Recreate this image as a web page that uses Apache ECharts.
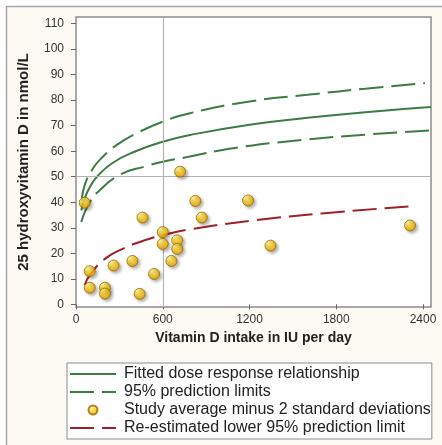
<!DOCTYPE html>
<html>
<head>
<meta charset="utf-8">
<script src="https://cdn.jsdelivr.net/npm/echarts@6/dist/echarts.min.js"></script>
<style>
  html, body { margin: 0; padding: 0; background: #fff; }
  #chart { width: 442px; height: 445px; }
</style>
</head>
<body>
<div id="chart"></div>
<script>
// study points: intake (IU/day) vs 25(OH)D mean minus 2 SD
const studyIntake = [60, 95, 95, 200, 200, 260, 390, 440, 460, 540, 600, 600, 660, 700, 700, 720, 825, 870, 1190, 1345, 2310];
const studyLevel  = [39.8, 13, 6.5, 6.5, 4.2, 15.2, 17, 4.1, 34, 11.9, 28.3, 23.7, 17, 25.1, 21.7, 52, 40.5, 34, 40.7, 23, 30.9];

// fitted dose response curve
const fitX = [37, 60, 100, 150, 250, 400, 600, 800, 1200, 1600, 2000, 2455];
const fitY = [36.8, 41.5, 46.4, 50.3, 55.3, 59.7, 63.7, 66.5, 70.4, 73.1, 75.3, 77.3];

// 95% prediction limits
const upperX = [40, 60, 118, 187, 280, 418, 600, 787, 1200, 1600, 2000, 2413];
const upperY = [40.5, 46.7, 53.3, 57.9, 62.4, 67, 71.6, 74.9, 79.5, 82.1, 84.5, 86.7];
const lowerX = [37, 60, 100, 141, 302, 487, 600, 787, 1087, 1600, 2000, 2455];
const lowerY = [32.3, 36, 40.5, 43.5, 50.7, 54.2, 55.9, 57.9, 61.2, 64.6, 66.5, 68.2];

// re-estimated lower limit
const reX = [60, 100, 200, 325, 460, 600, 800, 1250, 1700, 2310];
const reY = [7.5, 11.8, 17.8, 21.8, 24.8, 27.1, 29.5, 33, 35.6, 38.4];

const xTicks = [0, 600, 1200, 1800, 2400];
const yTicks = [0, 10, 20, 30, 40, 50, 60, 70, 80, 90, 100, 110];
const refX = 600, refY = 50;

const names = [
  'Fitted dose response relationship',
  '95% prediction limits',
  'Study average minus 2 standard deviations',
  'Re-estimated lower 95% prediction limit'
];

const zip = (a, b) => a.map((v, i) => [v, b[i]]);
const font = '"Liberation Sans", Arial, sans-serif';
const green = '#3e7c46';
const red = '#a21f2a';
const dash = [24, 8];
const noSymbol = { opacity: 0 };

const chart = echarts.init(document.getElementById('chart'));
chart.setOption({
  animation: false,
  graphic: [{
    type: 'rect', z: -10, silent: true,
    shape: { x: 6.5, y: 6.5, width: 480, height: 480 },
    style: { fill: '#fcfaf3', stroke: '#a6a6a6', lineWidth: 1.5 }
  }],
  grid: {
    left: 76, top: 17, right: 11, bottom: 138,
    show: true, backgroundColor: '#fff', borderColor: '#8c8c8c', borderWidth: 1.5
  },
  xAxis: {
    type: 'value', min: 0, max: 2455,
    name: 'Vitamin D intake in IU per day',
    nameLocation: 'middle', nameGap: 24,
    nameTextStyle: { fontFamily: font, fontWeight: 'bold', fontSize: 14, color: '#222' },
    axisLine: { show: false },
    axisTick: { show: true, length: 5, customValues: xTicks, lineStyle: { color: '#666' } },
    axisLabel: { customValues: xTicks, formatter: v => String(v), fontFamily: font, fontSize: 12, color: '#333', margin: 7 },
    splitLine: { show: false }
  },
  yAxis: {
    type: 'value', min: -1.05, max: 112.6,
    name: '25 hydroxyvitamin D in nmol/L',
    nameLocation: 'middle', nameGap: 45,
    nameTextStyle: { fontFamily: font, fontWeight: 'bold', fontSize: 15, color: '#222' },
    axisLine: { show: false },
    axisTick: { show: true, length: 5, customValues: yTicks, lineStyle: { color: '#666' } },
    axisLabel: { customValues: yTicks, formatter: v => String(v), fontFamily: font, fontSize: 12, color: '#333', margin: 12 },
    splitLine: { show: false }
  },
  legend: {
    orient: 'vertical', left: 67, top: 363,
    backgroundColor: '#fff', borderColor: '#8c8c8c', borderWidth: 1,
    padding: [3, 1, 3, 2], itemGap: 2, itemWidth: 46, itemHeight: 9,
    textStyle: { fontFamily: font, fontSize: 16, color: '#222', padding: [0, 0, 0, 3], lineHeight: 16 },
    data: [
      { name: names[0], itemStyle: noSymbol },
      { name: names[1], itemStyle: noSymbol },
      { name: names[2] },
      { name: names[3], itemStyle: noSymbol }
    ]
  },
  series: [
    {
      name: names[0], type: 'line', data: zip(fitX, fitY), smooth: true,
      symbol: 'none', lineStyle: { color: green, width: 2 }, itemStyle: { color: green },
      markLine: {
        silent: true, symbol: ['none', 'none'], label: { show: false },
        lineStyle: { color: '#b4b4b4', type: 'solid', width: 1.2 },
        data: [{ xAxis: refX }, { yAxis: refY }]
      }
    },
    {
      name: names[1], type: 'line', data: zip(upperX, upperY), smooth: true,
      symbol: 'none', lineStyle: { color: green, width: 2, type: dash }, itemStyle: { color: green }
    },
    {
      name: names[1], type: 'line', data: zip(lowerX, lowerY), smooth: true,
      symbol: 'none', lineStyle: { color: green, width: 2, type: dash }, itemStyle: { color: green }
    },
    {
      name: names[3], type: 'line', data: zip(reX, reY), smooth: true,
      symbol: 'none', lineStyle: { color: red, width: 2, type: dash }, itemStyle: { color: red }
    },
    {
      name: names[2], type: 'scatter', data: zip(studyIntake, studyLevel),
      symbol: 'circle', symbolSize: 11, z: 5,
      itemStyle: {
        color: new echarts.graphic.RadialGradient(0.35, 0.3, 0.7, [
          { offset: 0, color: '#fff6a8' },
          { offset: 0.45, color: '#ffd21a' },
          { offset: 1, color: '#e6a000' }
        ]),
        borderColor: '#9a6a00', borderWidth: 1,
        shadowColor: 'rgba(0,0,0,0.35)', shadowBlur: 3, shadowOffsetX: 2, shadowOffsetY: 2
      }
    }
  ]
});
</script>
</body>
</html>
